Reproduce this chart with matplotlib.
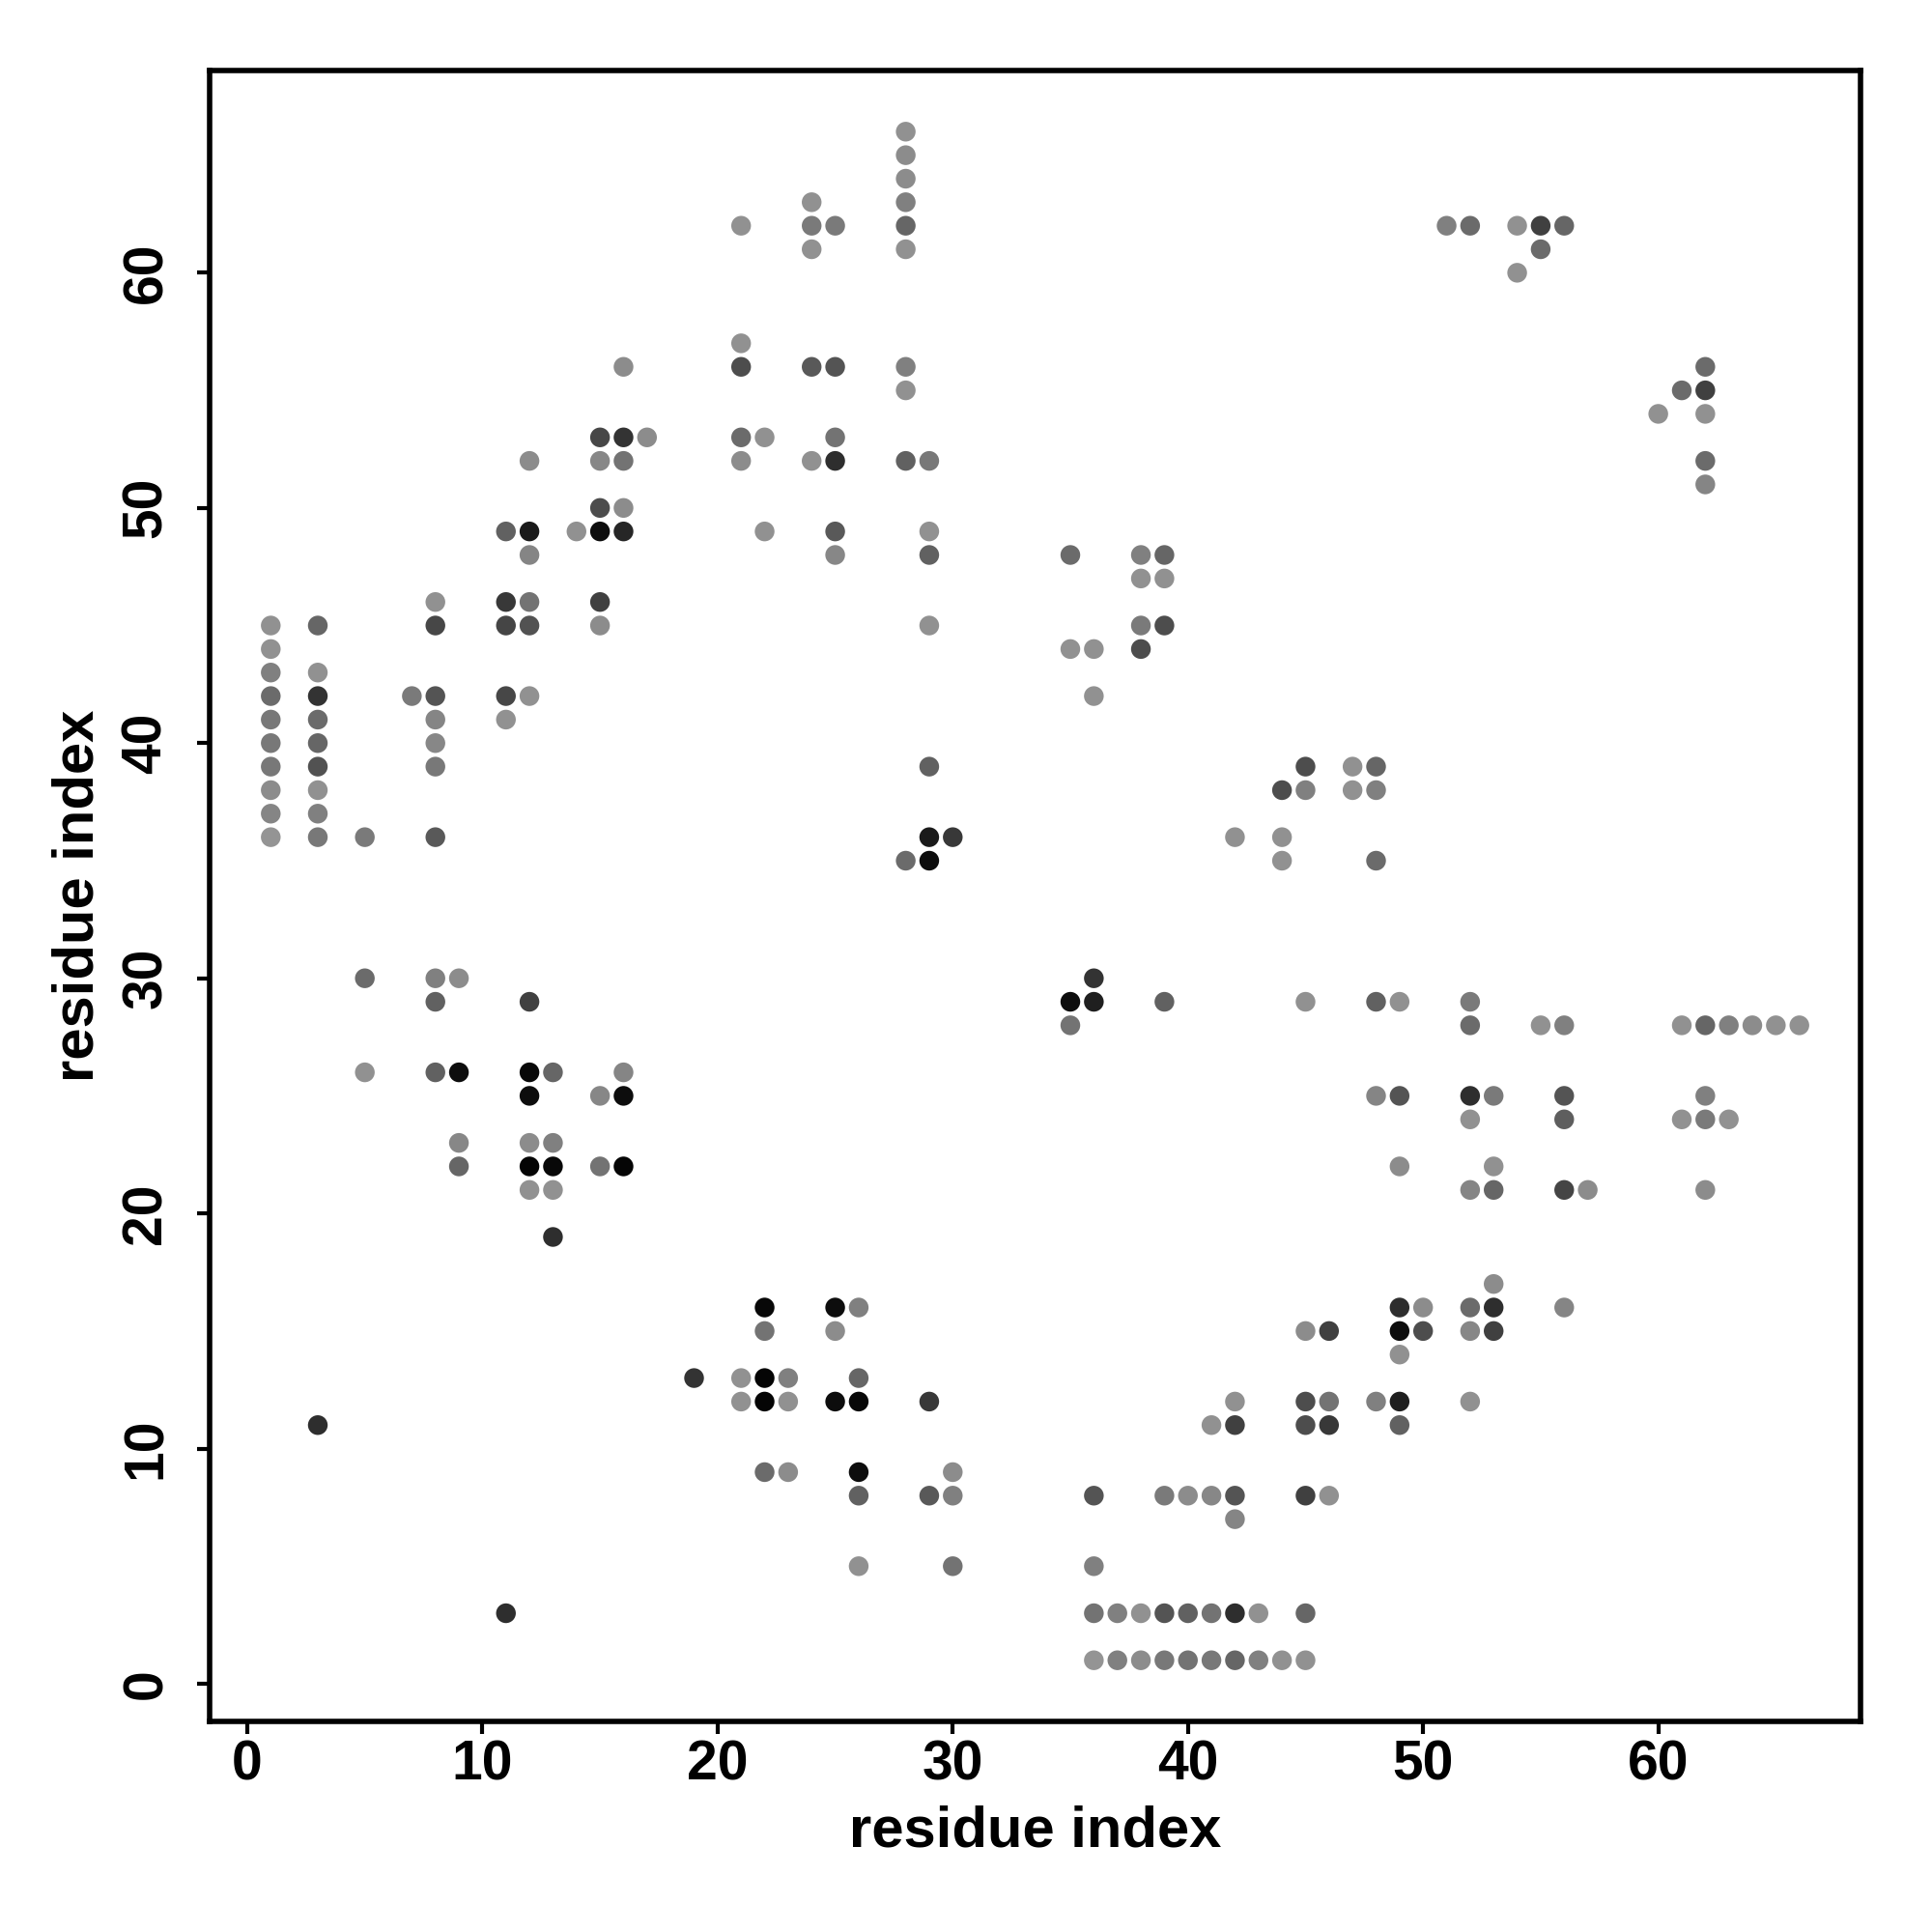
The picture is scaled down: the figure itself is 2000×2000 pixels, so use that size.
import matplotlib
matplotlib.use('Agg')
import matplotlib.pyplot as plt

plt.rcParams['font.family'] = ['Liberation Sans', 'DejaVu Sans']
plt.rcParams['font.weight'] = 'bold'

# contact pairs (residue i, residue j) and their shade (0 = black, 0.6 = light grey)
res_i = [1, 1, 1, 1, 1, 1, 1, 1, 1, 1,
         3, 3, 3, 3, 3, 3, 3, 3, 3, 3,
         5, 5, 5,
         7,
         8, 8, 8, 8, 8, 8, 8, 8, 8, 8,
         9, 9, 9, 9,
         11, 11, 11, 11, 11, 11,
         12, 12, 12, 12, 12, 12, 12, 12, 12, 12, 12, 12,
         13, 13, 13, 13, 13,
         14,
         15, 15, 15, 15, 15, 15, 15, 15,
         16, 16, 16, 16, 16, 16, 16, 16,
         17,
         19,
         21, 21, 21, 21, 21, 21, 21,
         22, 22, 22, 22, 22, 22, 22,
         23, 23, 23,
         24, 24, 24, 24, 24,
         25, 25, 25, 25, 25, 25, 25, 25, 25,
         26, 26, 26, 26, 26, 26,
         28, 28, 28, 28, 28, 28, 28, 28, 28, 28,
         29, 29, 29, 29, 29, 29, 29, 29, 29,
         30, 30, 30, 30,
         35, 35, 35, 35,
         36, 36, 36, 36, 36, 36, 36, 36,
         37, 37,
         38, 38, 38, 38, 38, 38,
         39, 39, 39, 39, 39, 39, 39,
         40, 40, 40,
         41, 41, 41, 41,
         42, 42, 42, 42, 42, 42, 42,
         43, 43,
         44, 44, 44, 44,
         45, 45, 45, 45, 45, 45, 45, 45, 45,
         46, 46, 46, 46,
         47, 47,
         48, 48, 48, 48, 48, 48,
         49, 49, 49, 49, 49, 49, 49, 49,
         50, 50,
         51,
         52, 52, 52, 52, 52, 52, 52, 52, 52,
         53, 53, 53, 53, 53, 53,
         54, 54,
         55, 55, 55,
         56, 56, 56, 56, 56, 56,
         57,
         60,
         61, 61, 61,
         62, 62, 62, 62, 62, 62, 62, 62, 62,
         63, 63,
         64, 65, 66]

res_j = [36, 37, 38, 39, 40, 41, 42, 43, 44, 45,
         11, 36, 37, 38, 39, 40, 41, 42, 43, 45,
         26, 30, 36,
         42,
         26, 29, 30, 36, 39, 40, 41, 42, 45, 46,
         22, 23, 26, 30,
         3, 41, 42, 45, 46, 49,
         21, 22, 23, 25, 26, 29, 42, 45, 46, 48, 49, 52,
         19, 21, 22, 23, 26,
         49,
         22, 25, 45, 46, 49, 50, 52, 53,
         22, 25, 26, 49, 50, 52, 53, 56,
         53,
         13,
         12, 13, 52, 53, 56, 57, 62,
         9, 12, 13, 15, 16, 49, 53,
         9, 12, 13,
         52, 56, 61, 62, 63,
         12, 15, 16, 48, 49, 52, 53, 56, 62,
         5, 8, 9, 12, 13, 16,
         35, 52, 55, 56, 61, 62, 63, 64, 65, 66,
         8, 12, 35, 36, 39, 45, 48, 49, 52,
         5, 8, 9, 36,
         28, 29, 44, 48,
         1, 3, 5, 8, 29, 30, 42, 44,
         1, 3,
         1, 3, 44, 45, 47, 48,
         1, 3, 8, 29, 45, 47, 48,
         1, 3, 8,
         1, 3, 8, 11,
         1, 3, 7, 8, 11, 12, 36,
         1, 3,
         1, 35, 36, 38,
         1, 3, 8, 11, 12, 15, 29, 38, 39,
         8, 11, 12, 15,
         38, 39,
         12, 25, 29, 35, 38, 39,
         11, 12, 14, 15, 16, 22, 25, 29,
         15, 16,
         62,
         12, 15, 16, 21, 24, 25, 28, 29, 62,
         15, 16, 17, 21, 22, 25,
         60, 62,
         28, 61, 62,
         16, 21, 24, 25, 28, 62,
         21,
         54,
         24, 28, 55,
         21, 24, 25, 28, 51, 52, 54, 55, 56,
         24, 28,
         28, 28, 28]

shade = [0.58, 0.52, 0.55, 0.47, 0.47, 0.47, 0.42, 0.50, 0.57, 0.57,
         0.18, 0.47, 0.50, 0.57, 0.32, 0.40, 0.42, 0.20, 0.57, 0.40,
         0.57, 0.42, 0.48,
         0.48,
         0.38, 0.38, 0.50, 0.35, 0.47, 0.53, 0.52, 0.33, 0.28, 0.57,
         0.40, 0.53, 0.05, 0.55,
         0.18, 0.57, 0.28, 0.27, 0.22, 0.38,
         0.57, 0.02, 0.55, 0.05, 0.03, 0.25, 0.57, 0.32, 0.45, 0.52, 0.10, 0.55,
         0.18, 0.57, 0.03, 0.50, 0.40,
         0.57,
         0.45, 0.53, 0.55, 0.25, 0.05, 0.30, 0.53, 0.28,
         0.02, 0.05, 0.52, 0.15, 0.55, 0.45, 0.20, 0.55,
         0.55,
         0.20,
         0.57, 0.57, 0.55, 0.42, 0.30, 0.57, 0.57,
         0.42, 0.02, 0.02, 0.45, 0.03, 0.57, 0.57,
         0.55, 0.57, 0.50,
         0.57, 0.35, 0.57, 0.48, 0.57,
         0.05, 0.55, 0.05, 0.53, 0.35, 0.18, 0.45, 0.33, 0.48,
         0.57, 0.38, 0.05, 0.03, 0.40, 0.50,
         0.42, 0.38, 0.57, 0.50, 0.57, 0.40, 0.50, 0.55, 0.55, 0.57,
         0.35, 0.22, 0.05, 0.10, 0.38, 0.57, 0.38, 0.57, 0.47,
         0.45, 0.50, 0.55, 0.22,
         0.45, 0.05, 0.57, 0.42,
         0.58, 0.45, 0.50, 0.33, 0.12, 0.20, 0.57, 0.57,
         0.50, 0.50,
         0.55, 0.57, 0.30, 0.48, 0.57, 0.50,
         0.47, 0.33, 0.48, 0.38, 0.30, 0.57, 0.40,
         0.45, 0.38, 0.55,
         0.47, 0.45, 0.53, 0.57,
         0.40, 0.18, 0.52, 0.33, 0.25, 0.57, 0.57,
         0.50, 0.57,
         0.57, 0.57, 0.57, 0.30,
         0.57, 0.40, 0.25, 0.30, 0.30, 0.55, 0.57, 0.50, 0.30,
         0.57, 0.22, 0.45, 0.25,
         0.57, 0.57,
         0.50, 0.52, 0.38, 0.42, 0.50, 0.40,
         0.38, 0.12, 0.57, 0.05, 0.18, 0.55, 0.33, 0.57,
         0.30, 0.55,
         0.50,
         0.57, 0.53, 0.42, 0.52, 0.57, 0.18, 0.42, 0.48, 0.42,
         0.25, 0.18, 0.55, 0.40, 0.57, 0.48,
         0.57, 0.57,
         0.57, 0.42, 0.25,
         0.52, 0.27, 0.37, 0.33, 0.50, 0.40,
         0.55,
         0.57,
         0.57, 0.57, 0.42,
         0.55, 0.48, 0.50, 0.40, 0.52, 0.42, 0.57, 0.25, 0.42,
         0.57, 0.50,
         0.55, 0.57, 0.57]

ticks = [0, 10, 20, 30, 40, 50, 60]

fig = plt.figure(figsize=(10, 10), dpi=200)
ax = fig.add_axes([0.1085, 0.109, 0.8545, 0.8545])

cols = [(g, g, g) for g in shade]
ax.scatter(res_i, res_j, s=54, c=cols, linewidths=0)

ax.set_xlim(-1.6, 68.6)
ax.set_ylim(-1.6, 68.6)
ax.set_xticks(ticks)
ax.set_yticks(ticks)
ax.set_xticklabels([str(t) for t in ticks], fontsize=20.5, fontweight='bold')
ax.set_yticklabels([str(t) for t in ticks], fontsize=20.5, fontweight='bold',
                   rotation=90, va='center')
ax.tick_params(axis='both', direction='out', length=4.7, width=1.5, color='black')
ax.tick_params(axis='x', pad=2)
ax.tick_params(axis='y', pad=9)
for sp in ax.spines.values():
    sp.set_linewidth(2.0)

ax.set_xlabel('residue index', fontsize=21.5, fontweight='bold', labelpad=5)
ax.set_ylabel('residue index', fontsize=21.5, fontweight='bold', labelpad=6)

plt.savefig('out.png', dpi=200, facecolor='white')
